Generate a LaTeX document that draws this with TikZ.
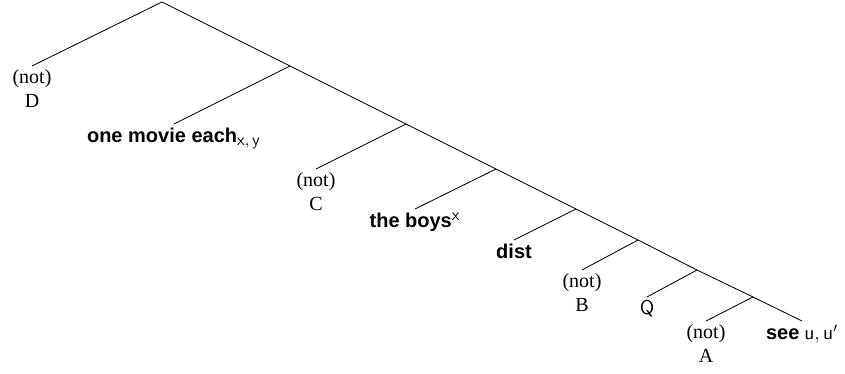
\documentclass[tikz,border=0pt]{standalone}
\usepackage[no-math]{fontspec}
\setmainfont{Liberation Serif}
\setsansfont{Liberation Sans}
\usepackage{amsmath}
\usetikzlibrary{positioning}
\tikzset{leaf/.style={anchor=north, inner sep=2pt, align=center}}
\newcommand{\lexw}[1]{\textsf{\textbf{#1}}}
\newcommand{\idx}[1]{\text{\fontsize{10}{12}\selectfont$#1$}}

\begin{document}
\begin{tikzpicture}[x=0.6pt, y=-0.6pt, line width=0.5pt, font=\fontsize{12}{14.5}\selectfont]
\useasboundingbox (0,0) rectangle (845,374);
\coordinate (R) at (162,2);
\coordinate (N1) at (290,66);
\coordinate (N2) at (406,124);
\coordinate (N3) at (496,169);
\coordinate (N4) at (576,209);
\coordinate (N5) at (638,240);
\coordinate (N6) at (697,270);
\coordinate (N7) at (753,297);
\node[leaf] (D) at (32,66) {(not)\\D};
\node[leaf] (OME) at (174,124) {\lexw{one movie each}$_{\idx{\mathsf{x},\mathsf{y}}}$};
\node[leaf] (C) at (316,169) {(not)\\C};
\node[leaf] (TB) at (415,209) {\lexw{the boys}$^{\idx{\mathsf{x}}}$};
\node[leaf] (DI) at (514,240) {\lexw{dist}};
\node[leaf] (B) at (582,270) {(not)\\B};
\node[leaf] (Q) at (647,297) {$\mathsf{Q}$};
\node[leaf] (A) at (706,321) {(not)\\A};
\node[leaf] (SEE) at (802,321) {\lexw{see} $\mathsf{u},\mathsf{u}'$};
\path (R) edge (D.north) edge (N1)
	(N1) edge (OME.north) edge (N2)
	(N2) edge (C.north) edge (N3)
	(N3) edge (TB.north) edge (N4)
	(N4) edge (DI.north) edge (N5)
	(N5) edge (B.north) edge (N6)
	(N6) edge (Q.north) edge (N7)
	(N7) edge (A.north) edge (SEE.north);
\end{tikzpicture}
\end{document}
